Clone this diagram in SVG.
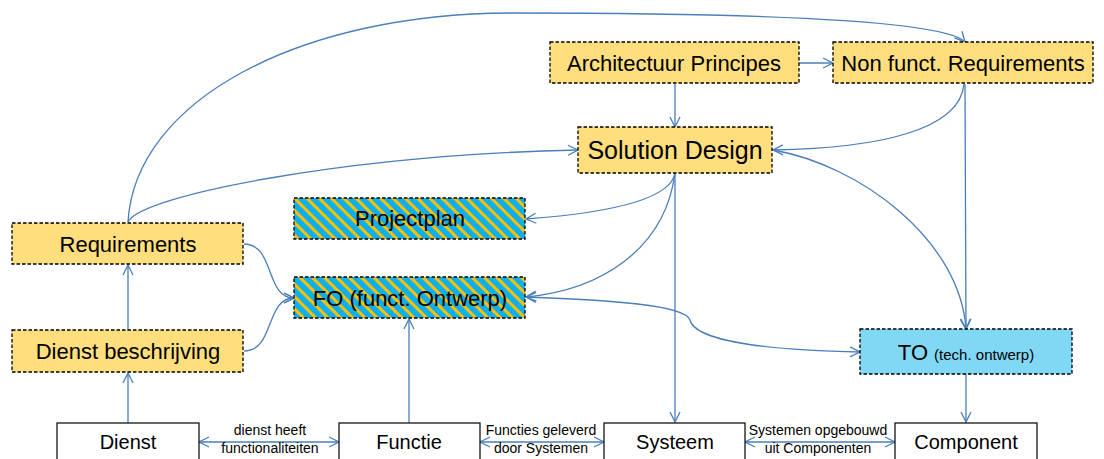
<svg xmlns="http://www.w3.org/2000/svg" width="1104" height="459" viewBox="0 0 1104 459">
<style>
.box{stroke:#000;stroke-width:1.3;stroke-dasharray:3.5 2}
.yel{fill:#FFDE7E}
.hat{fill:url(#hatch)}
.cyan{fill:#80D8F5}
.plain{fill:#fff;stroke:#000;stroke-width:1.2}
.t{font-family:"Liberation Sans",Arial,sans-serif;fill:#000;text-anchor:middle}
.l{font-family:"Liberation Sans",Arial,sans-serif;fill:#000;text-anchor:middle;font-size:14px}
.c{fill:none;stroke:#4A7EBB;stroke-width:1.3}
.ae{marker-end:url(#arr)}
.ab{marker-end:url(#arr);marker-start:url(#arrs)}
</style>
<defs>
<pattern id="hatch" patternUnits="userSpaceOnUse" width="8.7" height="8.7" patternTransform="rotate(45)">
<rect width="8.7" height="8.7" fill="#0CB0EE"/>
<rect width="8.7" height="3" fill="#FFC000"/>
</pattern>
<marker id="arr" viewBox="0 0 12 12" refX="11" refY="6" markerWidth="12" markerHeight="12" markerUnits="userSpaceOnUse" orient="auto">
<path d="M1,1 L11,6 L1,11" fill="none" stroke="#4A7EBB" stroke-width="1.3"/>
</marker>
<marker id="arrs" viewBox="0 0 12 12" refX="1" refY="6" markerWidth="12" markerHeight="12" markerUnits="userSpaceOnUse" orient="auto">
<path d="M11,1 L1,6 L11,11" fill="none" stroke="#4A7EBB" stroke-width="1.3"/>
</marker>
</defs>
<rect width="1104" height="459" fill="#fff"/>

<g id="connectors">
<path class="c ae" d="M128,423 L128,373"/>
<path class="c ae" d="M128,330 L128,265"/>
<path class="c ae" d="M128,222 C135,100 300,13 513,13 C750,13 945,20 965,42"/>
<path class="c ae" d="M128,222 C140,195 350,155 578,150"/>
<path class="c ae" d="M244,244 C275,244 265,298 294,298"/>
<path class="c ae" d="M244,351 C275,351 265,298 294,298"/>
<path class="c ae" d="M409,423 L409,319"/>
<path class="c ae" d="M675,84 L675,127"/>
<path class="c ae" d="M799,63 L833,63"/>
<path class="c ae" d="M964,84 C960,130 880,148 773,150"/>
<path class="c ae" d="M965,84 L966,329"/>
<path class="c ae" d="M773,150 C860,165 960,240 966,329"/>
<path class="c ae" d="M675,173 C670,205 580,215 526,219"/>
<path class="c ae" d="M675,173 C665,250 600,290 526,297"/>
<path class="c ae" d="M675,173 L675,422"/>
<path class="c ab" d="M526,297 C610,300 685,305 690,320 C695,340 760,350 860,352"/>
<path class="c ae" d="M966,374 L966,422"/>
<path class="c ab" d="M199,442 L339,442"/>
<path class="c ab" d="M480,442 L604,442"/>
<path class="c ab" d="M745,442 L895,442"/>
<text class="l" x="270" y="435">dienst heeft</text>
<text class="l" x="270" y="453">functionaliteiten</text>
<text class="l" x="541" y="435">Functies geleverd</text>
<text class="l" x="541" y="453">door Systemen</text>
<text class="l" x="818" y="435">Systemen opgebouwd</text>
<text class="l" x="818" y="453">uit Componenten</text>
</g>

<g id="architectuur">
<rect class="box yel" x="550" y="42" width="249" height="41"/>
<text class="t" x="674" y="71" font-size="22">Architectuur Principes</text>
</g>
<g id="nonfunct">
<rect class="box yel" x="833" y="42" width="260" height="41"/>
<text class="t" x="963" y="71" font-size="22">Non funct. Requirements</text>
</g>
<g id="solution">
<rect class="box yel" x="578" y="127" width="194" height="46"/>
<text class="t" x="675" y="159" font-size="25">Solution Design</text>
</g>
<g id="projectplan">
<rect class="box hat" x="294" y="198" width="231" height="41"/>
<text class="t" x="410" y="226" font-size="22">Projectplan</text>
</g>
<g id="fo">
<rect class="box hat" x="294" y="277" width="231" height="41"/>
<text class="t" x="410" y="306" font-size="22">FO (funct. Ontwerp)</text>
</g>
<g id="requirements">
<rect class="box yel" x="12" y="223" width="231" height="41"/>
<text class="t" x="128" y="252" font-size="22">Requirements</text>
</g>
<g id="dienstbeschrijving">
<rect class="box yel" x="12" y="330" width="231" height="42"/>
<text class="t" x="128" y="359" font-size="22">Dienst beschrijving</text>
</g>
<g id="to">
<rect class="box cyan" x="860" y="329" width="212" height="45"/>
<text class="t" x="966" y="360" font-size="22">TO <tspan font-size="15">(tech. ontwerp)</tspan></text>
</g>
<g id="dienst">
<rect class="plain" x="57" y="423" width="142" height="50"/>
<text class="t" x="128" y="449" font-size="20">Dienst</text>
</g>
<g id="functie">
<rect class="plain" x="339" y="423" width="141" height="50"/>
<text class="t" x="409" y="449" font-size="20">Functie</text>
</g>
<g id="systeem">
<rect class="plain" x="604" y="423" width="141" height="50"/>
<text class="t" x="675" y="449" font-size="20">Systeem</text>
</g>
<g id="component">
<rect class="plain" x="895" y="423" width="142" height="50"/>
<text class="t" x="966" y="449" font-size="20">Component</text>
</g>
</svg>
